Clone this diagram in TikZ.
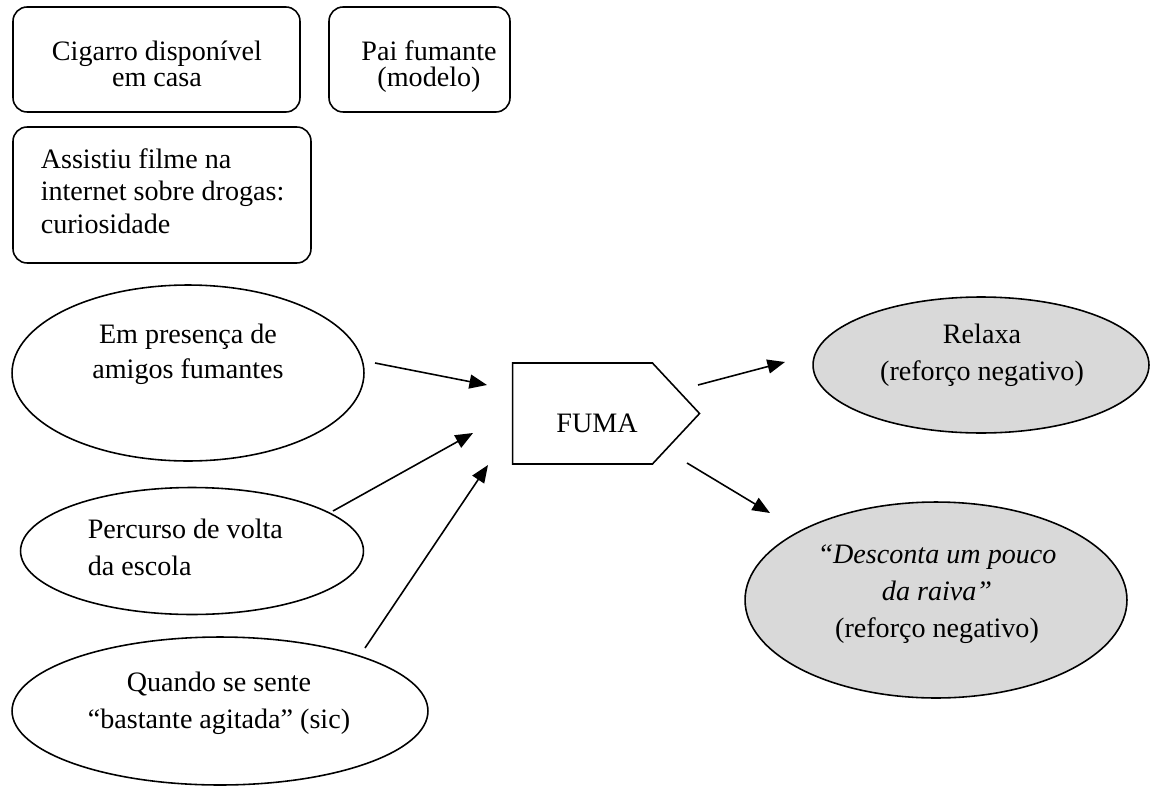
\documentclass[tikz,border=0pt]{standalone}
\usepackage{fontspec}
\setmainfont{Liberation Serif}
\usetikzlibrary{arrows.meta,shapes.geometric,shapes.symbols}
\definecolor{cinza}{HTML}{D9D9D9}
\begin{document}
\begin{tikzpicture}[x=0.02cm, y=-0.02cm, line width=0.9pt,
    caixa/.style={draw, rounded corners=8pt, inner sep=0pt},
    oval/.style={draw, ellipse, inner sep=0pt},
    reforco/.style={oval, fill=cinza},
    txt/.style={inner sep=0pt, anchor=base, font=\fontsize{16}{#1}\selectfont},
    txt/.default=20.5pt,
    seta/.style={-{Triangle[length=10pt,width=8pt]}}]
    \useasboundingbox (0,0) rectangle (1151,787);
    \node [caixa, minimum width=5.74cm, minimum height=2.1cm] (cigarro) at (156.5,59.5) {};
    \node [txt=15.3pt, align=center] (t-cigarro) at (157,87) {Cigarro disponível\\em casa};
    \node [caixa, minimum width=3.62cm, minimum height=2.1cm] (pai) at (419.5,59.5) {};
    \node [txt=15.3pt, align=center] (t-pai) at (429,87) {Pai fumante\\(modelo)};
    \node [caixa, minimum width=5.96cm, minimum height=2.72cm] (filme) at (162,195) {};
    \node [txt=18.4pt, align=left, anchor=base west] (t-filme) at (40,233) {Assistiu filme na\\internet sobre drogas:\\curiosidade};
    \node [oval, minimum width=7.04cm, minimum height=3.52cm] (amigos) at (188,373) {};
    \node [txt=19.8pt, align=center] (t-amigos) at (188,378) {Em presença de\\amigos fumantes};
    \node [oval, minimum width=6.86cm, minimum height=2.54cm] (escola) at (192,551) {};
    \node [txt=21pt, align=left, anchor=base west] (t-escola) at (87,575) {Percurso de volta\\da escola};
    \node [oval, minimum width=8.32cm, minimum height=2.96cm] (agitada) at (220,711) {};
    \node [txt, align=center] (t-agitada) at (219,728) {Quando se sente\\“bastante agitada” (sic)};
    \node [draw, signal, signal to=east, signal pointer angle=94, inner sep=0pt,
        minimum width=3.74cm, minimum height=2.02cm] (fuma) at (582.5,413.5) {};
    \node [txt] (t-fuma) at (597,432) {FUMA};
    \node [reforco, minimum width=6.72cm, minimum height=2.72cm] (relaxa) at (981,365) {};
    \node [txt=21pt, align=center] (t-relaxa) at (982,380) {Relaxa\\(reforço negativo)};
    \node [reforco, minimum width=7.64cm, minimum height=3.92cm] (raiva) at (936,600) {};
    \node [txt=21pt, align=center] (t-raiva) at (937,637) {\itshape “Desconta um pouco\\\itshape da raiva”\\(reforço negativo)};
    \coordinate (amigos-s) at (375,363);
    \coordinate (amigos-f) at (487,385);
    \coordinate (escola-s) at (333,511);
    \coordinate (escola-f) at (473,433);
    \coordinate (agitada-s) at (365,648);
    \coordinate (agitada-f) at (488,465);
    \coordinate (relaxa-s) at (698,385);
    \coordinate (relaxa-f) at (785,362);
    \coordinate (raiva-s) at (687,463);
    \coordinate (raiva-f) at (770,513);
    \draw [seta] (amigos-s) -- (amigos-f);
    \draw [seta] (escola-s) -- (escola-f);
    \draw [seta] (agitada-s) -- (agitada-f);
    \draw [seta] (relaxa-s) -- (relaxa-f);
    \draw [seta] (raiva-s) -- (raiva-f);
\end{tikzpicture}
\end{document}
